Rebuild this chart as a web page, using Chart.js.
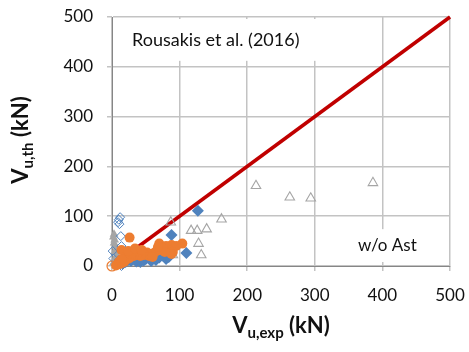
<!DOCTYPE html>
<html>
<head>
<meta charset="utf-8">
<script src="https://cdn.jsdelivr.net/npm/chart.js@4.4.1/dist/chart.umd.min.js"></script>
<style>
  html, body { margin: 0; padding: 0; background: #fff; overflow: hidden; }
  canvas { display: block; }
</style>
</head>
<body>
<canvas id="chart" width="469" height="352"></canvas>
<script>
// Vu,exp (x) vs Vu,th (y), kN
const orangeOpenX = [0];
const orangeOpenY = [0];

const orangeX = [26, 14, 104, 70, 88, 80, 95, 84, 90, 88, 76, 72, 66, 62, 58, 55, 52, 48, 45, 42, 40, 37, 35, 32, 30, 28, 25, 22, 20, 18, 15, 12, 10, 8, 14, 24, 34, 44, 60, 78, 68, 6];
const orangeY = [57, 32, 45, 45, 42, 40, 40, 32, 28, 24, 35, 32, 30, 26, 24, 20, 27, 22, 25, 20, 28, 23, 30, 20, 26, 18, 15, 20, 12, 8, 6, 4, 8, 3, 14, 30, 35, 32, 18, 28, 38, 1];

const blueOpenX = [12, 10, 9, 11, 13, 14, 1, 2, 10, 14];
const blueOpenY = [98, 93, 88, 84, 60, 40, 30, 15, 12, 0];

const blueX = [127, 88, 110, 20, 24, 28, 32, 36, 40, 44, 47, 50, 54, 57, 60, 63, 66, 70, 73, 76, 16, 30, 38, 46, 52, 42, 58, 65, 80, 84];
const blueY = [111, 62, 26, 8, 12, 10, 14, 9, 12, 15, 11, 14, 17, 13, 20, 15, 21, 17, 24, 20, 5, 18, 20, 18, 22, 8, 10, 12, 14, 18];

const greyX = [3, 2, 4, 3, 5, 6, 4, 7, 5, 8, 2];
const greyY = [64, 58, 52, 46, 40, 34, 28, 22, 16, 10, 6];

const greyOpenX = [386, 294, 263, 213, 162, 140, 126, 117, 128, 132, 87, 90];
const greyOpenY = [167, 136, 138, 161, 94, 74, 71, 71, 45, 22, 88, 22];

const lineX = [0, 500];
const lineY = [0, 500];

const xTicks = [0, 100, 200, 300, 400, 500];
const yTicks = [0, 100, 200, 300, 400, 500];

const FONT = 'Lato, "Open Sans", sans-serif';

function pts(xs, ys) {
    return xs.map((x, i) => ({ x: x, y: ys[i] }));
}

// white label boxes sit above the grid but under the markers
const labelsPlugin = {
    id: 'labels',
    beforeDatasetsDraw(chart) {
        const { ctx, scales } = chart;
        const x = scales.x, y = scales.y;
        ctx.save();
        ctx.fillStyle = '#fff';
        ctx.fillRect(x.getPixelForValue(20), y.getPixelForValue(496), x.getPixelForValue(305) - x.getPixelForValue(20), y.getPixelForValue(412) - y.getPixelForValue(496));
        ctx.fillRect(x.getPixelForValue(355), y.getPixelForValue(74), x.getPixelForValue(460) - x.getPixelForValue(355), y.getPixelForValue(8) - y.getPixelForValue(74));
        ctx.fillStyle = '#111';
        ctx.textBaseline = 'middle';
        ctx.textAlign = 'left';
        ctx.font = '18px ' + FONT;
        ctx.fillText('Rousakis et al. (2016)', 132, 40);
        ctx.font = '17px ' + FONT;
        ctx.fillText('w/o Ast', 358, 246);
        ctx.restore();
    },
    afterDraw(chart) {
        const { ctx } = chart;
        ctx.save();
        ctx.fillStyle = '#111';
        drawTitle(ctx, 'u,exp', 281, 333);
        ctx.translate(0, 140);
        ctx.rotate(-Math.PI / 2);
        drawTitle(ctx, 'u,th', 0, 28);
        ctx.restore();
    }
};

// "V" + subscript + " (kN)", centred on cx
function drawTitle(ctx, sub, cx, baseline) {
    const big = 'bold 22px ' + FONT;
    const small = 'bold 15px ' + FONT;
    ctx.font = big;
    const wV = ctx.measureText('V').width;
    const wTail = ctx.measureText(' (kN)').width;
    ctx.font = small;
    const wSub = ctx.measureText(sub).width;
    let x = cx - (wV + wSub + wTail) / 2;
    ctx.textAlign = 'left';
    ctx.textBaseline = 'alphabetic';
    ctx.font = big;
    ctx.fillText('V', x, baseline);
    x += wV;
    ctx.font = small;
    ctx.fillText(sub, x, baseline + 5);
    x += wSub;
    ctx.font = big;
    ctx.fillText(' (kN)', x, baseline);
}

new Chart(document.getElementById('chart'), {
    type: 'scatter',
    data: {
        datasets: [
            { data: pts(orangeOpenX, orangeOpenY), pointStyle: 'circle', pointRadius: 5, backgroundColor: 'rgba(0,0,0,0)', borderColor: '#ed7d31', borderWidth: 1.2 },
            { data: pts(orangeX, orangeY), pointStyle: 'circle', pointRadius: 5, backgroundColor: '#ed7d31', borderColor: '#ed7d31', borderWidth: 0 },
            { data: pts(blueOpenX, blueOpenY), pointStyle: 'rectRot', pointRadius: 4.5, backgroundColor: 'rgba(0,0,0,0)', borderColor: '#4f82bd', borderWidth: 1 },
            { data: pts(blueX, blueY), pointStyle: 'rectRot', pointRadius: 6, backgroundColor: '#4f82bd', borderColor: '#4f82bd', borderWidth: 0 },
            { data: pts(greyX, greyY), pointStyle: 'triangle', pointRadius: 5, backgroundColor: '#a5a5a5', borderColor: '#a5a5a5', borderWidth: 0 },
            { data: pts(greyOpenX, greyOpenY), pointStyle: 'triangle', pointRadius: 5.5, backgroundColor: 'rgba(0,0,0,0)', borderColor: '#a5a5a5', borderWidth: 1.1 },
            { data: pts(lineX, lineY), showLine: true, borderColor: '#c00000', borderWidth: 3.5, pointRadius: 0 }
        ]
    },
    options: {
        responsive: false,
        animation: false,
        clip: false,
        events: [],
        layout: { padding: 0 },
        plugins: {
            legend: { display: false },
            tooltip: { enabled: false }
        },
        scales: {
            x: {
                type: 'linear',
                min: 0,
                max: 500,
                afterFit: s => { s.height = 86; s.paddingLeft = 0; s.paddingRight = 19; },
                afterBuildTicks: s => { s.ticks = xTicks.map(v => ({ value: v })); },
                grid: { color: '#c3c3c3', lineWidth: 1.5, tickLength: 5, tickColor: '#c3c3c3' },
                border: { color: '#868686', width: 1 },
                ticks: { color: '#111', padding: 14, font: { family: FONT, size: 17 } }
            },
            y: {
                type: 'linear',
                min: 0,
                max: 500,
                afterFit: s => { s.width = 112; s.paddingTop = 17; s.paddingBottom = 0; },
                afterBuildTicks: s => { s.ticks = yTicks.map(v => ({ value: v })); },
                grid: { color: '#c3c3c3', lineWidth: 1.5, tickLength: 5, tickColor: '#c3c3c3' },
                border: { color: '#868686', width: 1 },
                ticks: { color: '#111', padding: 14, font: { family: FONT, size: 17 } }
            }
        }
    },
    plugins: [labelsPlugin]
});
</script>
</body>
</html>
